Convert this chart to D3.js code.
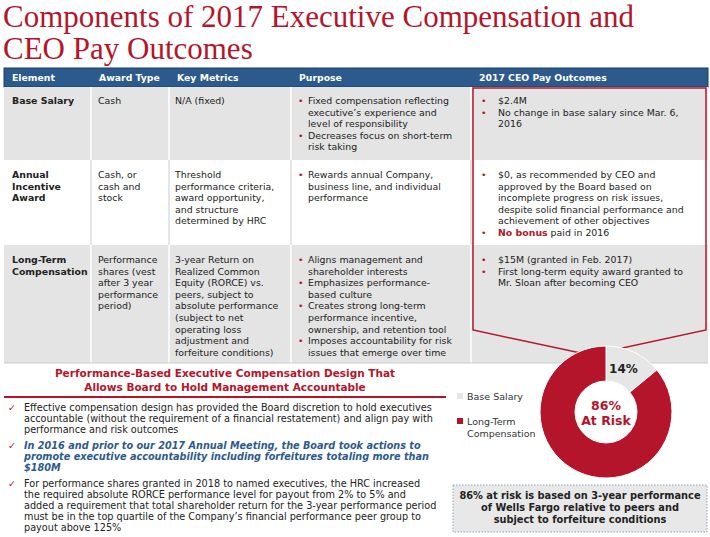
<!DOCTYPE html>
<html><head><meta charset="utf-8">
<script src="https://cdn.jsdelivr.net/npm/d3@7"></script>
<style>body{margin:0;background:#fff}svg{display:block}</style>
</head><body><svg id="c" width="710" height="537"></svg>
<script>
const titleLines = ["Components of 2017 Executive Compensation and","CEO Pay Outcomes"];
const headers = ["Element","Award Type","Key Metrics","Purpose","2017 CEO Pay Outcomes"];
const elements = [["Base Salary"],["Annual","Incentive","Award"],["Long-Term","Compensation"]];
const awardTypes = [["Cash"],["Cash, or","cash and","stock"],["Performance","shares (vest","after 3 year","performance","period)"]];
const keyMetrics = [["N/A (fixed)"],["Threshold","performance criteria,","award opportunity,","and structure","determined by HRC"],
 ["3-year Return on","Realized Common","Equity (RORCE) vs.","peers, subject to","absolute performance","(subject to net","operating loss","adjustment and","forfeiture conditions)"]];
const purposes = [[["Fixed compensation reflecting","executive’s experience and","level of responsibility"],["Decreases focus on short-term","risk taking"]],
 [["Rewards annual Company,","business line, and individual","performance"]],
 [["Aligns management and","shareholder interests"],["Emphasizes performance-","based culture"],["Creates strong long-term","performance incentive,","ownership, and retention tool"],["Imposes accountability for risk","issues that emerge over time"]]];
const outcomes = [[["$2.4M"],["No change in base salary since Mar. 6,","2016"]],
 [["$0, as recommended by CEO and","approved by the Board based on","incomplete progress on risk issues,","despite solid financial performance and","achievement of other objectives"],["@No bonus@ paid in 2016"]],
 [["$15M (granted in Feb. 2017)"],["First long-term equity award granted to","Mr. Sloan after becoming CEO"]]];
const subTitle = ["Performance-Based Executive Compensation Design That","Allows Board to Hold Management Accountable"];
const checks = [
 {style:"n",lines:["Effective compensation design has provided the Board discretion to hold executives","accountable (without the requirement of a financial restatement) and align pay with","performance and risk outcomes"]},
 {style:"b",lines:["In 2016 and prior to our 2017 Annual Meeting, the Board took actions to","promote executive accountability including forfeitures totaling more than","$180M"]},
 {style:"n",lines:["For performance shares granted in 2018 to named executives, the HRC increased","the required absolute RORCE performance level for payout from 2% to 5% and","added a requirement that total shareholder return for the 3-year performance period","must be in the top quartile of the Company’s financial performance peer group to","payout above 125%"]}];
const pieLabels = ["Base Salary","Long-Term Compensation"];
const pieValues = [14, 86];
const noteLines = ["86% at risk is based on 3-year performance","of Wells Fargo relative to peers and","subject to forfeiture conditions"];

const RED="#b5152b", BLUE="#2c5a8c", GRAY="#e4e4e4", TXT="#222";
const F="DejaVu Sans, Verdana, sans-serif";
const svg=d3.select("#c");
svg.selectAll("text.t").data(titleLines).join("text").attr("x",3).attr("y",(d,i)=>27+i*32)
 .attr("font-family","Liberation Serif, Georgia, serif").attr("font-size",31).attr("fill",RED).text(d=>d);

const colX=[4,91,169,291,471,708];
const rowY=[87,160,245,363];
svg.append("rect").attr("x",4).attr("y",68).attr("width",704).attr("height",19).attr("fill",BLUE).attr("stroke","#1d3f66");
svg.selectAll("text.h").data(headers).join("text").attr("x",(d,i)=>colX[i]+8).attr("y",81)
 .attr("font-family",F).attr("font-size",9.3).attr("font-weight","bold").attr("fill","#fff").text(d=>d);
[0,1,2].forEach(r=>{
 svg.append("rect").attr("x",4).attr("y",rowY[r]).attr("width",704).attr("height",rowY[r+1]-rowY[r]).attr("fill",r===1?"#fff":GRAY);
});
colX.slice(1,5).forEach(x=>svg.append("line").attr("x1",x).attr("x2",x).attr("y1",87).attr("y2",363).attr("stroke","#fff").attr("stroke-width",1.5));
[1].forEach(r=>colX.slice(1,5).forEach(x=>svg.append("line").attr("x1",x).attr("x2",x).attr("y1",rowY[r]).attr("y2",rowY[r+1]).attr("stroke","#ccc")));
svg.append("line").attr("x1",4).attr("x2",708).attr("y1",363).attr("y2",363).attr("stroke","#ccc");
const LH=11.6, FS=9.4;
function lines(x,y,arr,opt={}){
 arr.forEach((l,i)=>{
  const t=svg.append("text").attr("x",x).attr("y",y+i*LH).attr("font-family",F).attr("font-size",FS).attr("fill",TXT);
  if(opt.bold)t.attr("font-weight","bold");
  const parts=l.split("@");
  parts.forEach((p,j)=>{const s=t.append("tspan").text(p);if(j%2===1)s.attr("fill",RED).attr("font-weight","bold");});
 });
}
const firstY=[104,178,263];
[0,1,2].forEach(r=>{
 const y=firstY[r];
 lines(colX[0]+8,y,elements[r],{bold:true});
 lines(colX[1]+7,y,awardTypes[r]);
 lines(colX[2]+6,y,keyMetrics[r]);
 let yy=y; purposes[r].forEach(b=>{svg.append("text").attr("x",colX[3]+7).attr("y",yy).attr("font-family",F).attr("font-size",FS).attr("fill",RED).text("•");lines(colX[3]+17,yy,b);yy+=b.length*LH;});
 yy=y; outcomes[r].forEach(b=>{svg.append("text").attr("x",colX[4]+10).attr("y",yy).attr("font-family",F).attr("font-size",FS).attr("fill",RED).text("•");lines(colX[4]+27,yy,b);yy+=b.length*LH;});
});
svg.append("path").attr("d",`M473,88 L706,88 L706,330 L590,355 L473,330 Z`).attr("fill","none").attr("stroke",RED).attr("stroke-width",1.5);

svg.selectAll("text.s").data(subTitle).join("text").attr("x",225).attr("y",(d,i)=>377+i*14).attr("text-anchor","middle")
 .attr("font-family",F).attr("font-size",10.5).attr("font-weight","bold").attr("fill",RED).text(d=>d);
svg.append("line").attr("x1",4).attr("x2",446).attr("y1",397).attr("y2",397).attr("stroke",RED).attr("stroke-width",2);
let cy=411;
checks.forEach(c=>{
 svg.append("text").attr("x",8).attr("y",cy).attr("font-family",F).attr("font-size",FS).attr("fill",RED).text("✓");
 c.lines.forEach((l,i)=>{const t=svg.append("text").attr("x",24).attr("y",cy+i*11).attr("font-family",F).attr("font-size",9.7).attr("fill",c.style==="b"?BLUE:TXT).text(l);
  if(c.style==="b")t.attr("font-weight","bold").attr("font-style","italic");});
 cy+=c.lines.length*11+5;
});

const colors=d3.scaleOrdinal().domain(pieLabels).range(["#e6e6e6",RED]);
const pie=d3.pie().sort(null).value(d=>d)(pieValues);
const arc=d3.arc().innerRadius(31).outerRadius(66);
const g=svg.append("g").attr("transform","translate(606,412)");
g.selectAll("path").data(pie).join("path").attr("d",arc).attr("fill",(d,i)=>colors(pieLabels[i])).attr("stroke","#fff").attr("stroke-width",1);
const lab=d3.arc().innerRadius(48).outerRadius(48);
g.append("text").attr("transform",`translate(${lab.centroid(pie[0])})`).attr("text-anchor","middle").attr("dy","0.35em").attr("dx",-3)
 .attr("font-family",F).attr("font-size",12).attr("font-weight","bold").attr("fill","#222").text(pieValues[0]+"%");
g.append("text").attr("y",-2).attr("text-anchor","middle").attr("font-family",F).attr("font-size",12.5).attr("font-weight","bold").attr("fill",RED).text(pieValues[1]+"%");
g.append("text").attr("y",13).attr("text-anchor","middle").attr("font-family",F).attr("font-size",12.5).attr("font-weight","bold").attr("fill",RED).text("At Risk");
const legY=[400,425];
pieLabels.forEach((l,i)=>{
 svg.append("rect").attr("x",457).attr("y",legY[i]-7).attr("width",6).attr("height",6).attr("fill",colors(l));
 const parts=i===0?[l]:["Long-Term","Compensation"];
 parts.forEach((p,j)=>svg.append("text").attr("x",467).attr("y",legY[i]+j*12).attr("font-family",F).attr("font-size",9.5).attr("fill","#333").text(p));
});
svg.append("rect").attr("x",453).attr("y",485).attr("width",254).attr("height",47).attr("fill","#e8e8e8").attr("stroke","#8fa6bd").attr("stroke-dasharray","1.5,1.5");
svg.selectAll("text.n").data(noteLines).join("text").attr("x",580).attr("y",(d,i)=>499+i*12).attr("text-anchor","middle")
 .attr("font-family",F).attr("font-size",9.8).attr("font-weight","bold").attr("fill","#222").text(d=>d);
</script></body></html>
